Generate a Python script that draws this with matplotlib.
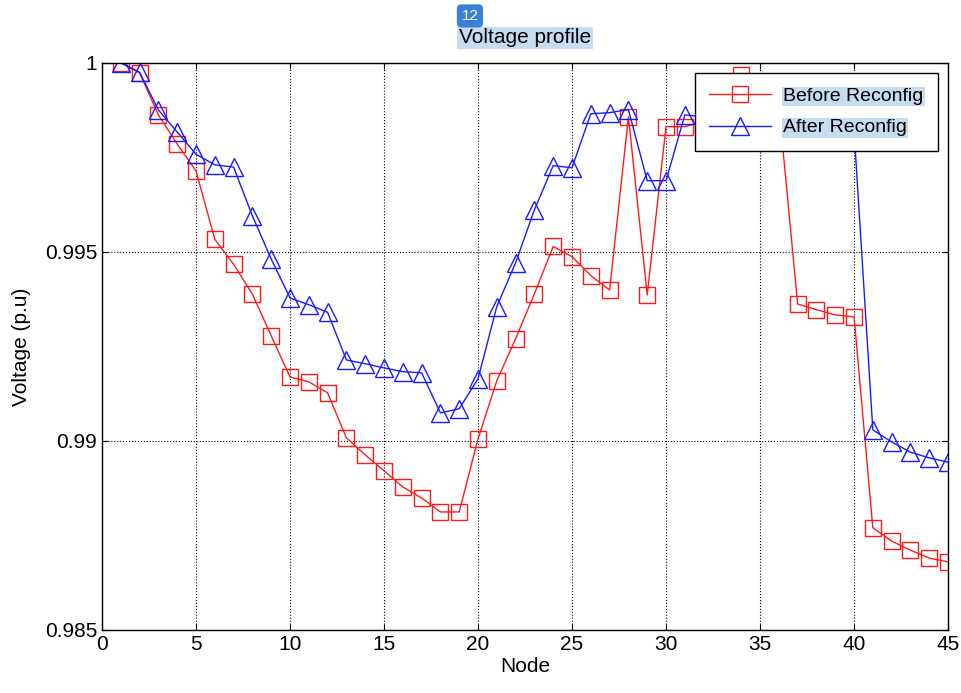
import matplotlib
matplotlib.use('Agg')
from matplotlib import pyplot as plt
from matplotlib.ticker import FuncFormatter

# node numbers and voltages (p.u)
nodes = list(range(1, 46))
before = [1.0000, 0.99973, 0.99862, 0.99785, 0.99714, 0.99533, 0.99467, 0.99388, 0.99278, 0.99169,
          0.99156, 0.99127, 0.99008, 0.98963, 0.98921, 0.98878, 0.98849, 0.98812, 0.98812, 0.99005,
          0.99159, 0.99270, 0.99389, 0.99514, 0.99487, 0.99437, 0.99399, 0.99857, 0.99386, 0.99831,
          0.99831, 0.99844, 0.99900, 0.99968, 0.99930, 0.99886, 0.99362, 0.99347, 0.99333, 0.99328,
          0.98770, 0.98735, 0.98711, 0.98690, 0.98680]
after = [1.0000, 0.99975, 0.99875, 0.99817, 0.99758, 0.99730, 0.99724, 0.99595, 0.99481, 0.99378,
         0.99360, 0.99340, 0.99214, 0.99204, 0.99193, 0.99183, 0.99180, 0.99074, 0.99085, 0.99164,
         0.99355, 0.99471, 0.99611, 0.99728, 0.99722, 0.99865, 0.99868, 0.99876, 0.99688, 0.99688,
         0.99862, 0.99857, 0.99880, 0.99900, 0.99890, 0.99870, 0.99860, 0.99850, 0.99830, 0.99820,
         0.99029, 0.98997, 0.98970, 0.98955, 0.98944]
xticks = [0, 5, 10, 15, 20, 25, 30, 35, 40, 45]
yticks = [0.985, 0.99, 0.995, 1.0]

plt.rcParams['font.family'] = ['Liberation Sans', 'DejaVu Sans']
hl = '#c6dcf1'

fig = plt.figure(figsize=(9.62, 6.93), dpi=100)
ax = fig.add_axes([0.106, 0.091, 0.8795, 0.8185])

ax.plot(nodes, before, color='#ff1a1a', lw=1, marker='s', ms=11.5, mfc='none', mew=1,
        label='Before Reconfig')
ax.plot(nodes, after, color='#1a1aff', lw=1, marker='^', ms=12.5, mfc='none', mew=1,
        label='After Reconfig')

ax.set_xlim(0, 45)
ax.set_ylim(0.985, 1.0)
ax.set_xticks(xticks)
ax.set_yticks(yticks)
ax.yaxis.set_major_formatter(FuncFormatter(lambda v, p: f'{v:g}'))
ax.tick_params(direction='in', top=True, right=True, labelsize=15, length=4, width=0.8)
ax.grid(True, color='black', linestyle=':', linewidth=0.8)
for s in ax.spines.values():
    s.set_linewidth(1)

ax.set_xlabel('Node', fontsize=15, labelpad=2)
ax.set_ylabel('Voltage (p.u)', fontsize=15, labelpad=10)
ax.set_title('Voltage profile', fontsize=15, pad=14,
             bbox=dict(facecolor=hl, edgecolor='none', pad=1))

leg = ax.legend(loc='upper right', bbox_to_anchor=(0.988, 0.982), borderaxespad=0,
                fontsize=14, handlelength=3.2, handletextpad=0.6, fancybox=False,
                framealpha=1, edgecolor='black', borderpad=0.75, labelspacing=0.7)
leg.get_frame().set_linewidth(1)
for t in leg.get_texts():
    t.set_bbox(dict(facecolor=hl, edgecolor='none', pad=1))

fig.text(0.4885, 0.977, '12', fontsize=11, color='white', ha='center', va='center',
         bbox=dict(boxstyle='round,pad=0.3', facecolor='#3a80d9', edgecolor='none'))

fig.savefig('out.png', dpi=100)
